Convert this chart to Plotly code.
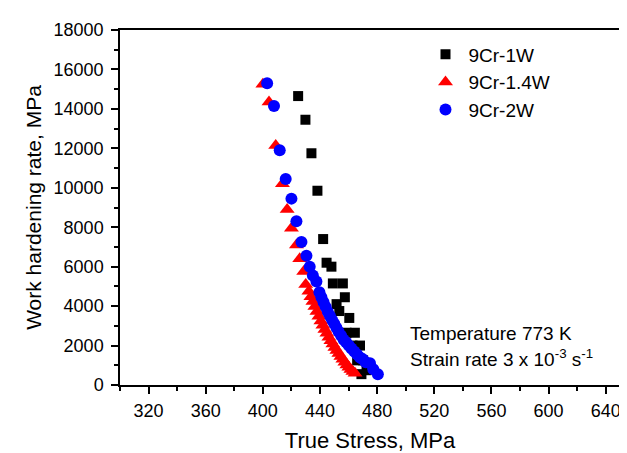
import plotly.graph_objects as go

# 9Cr-1W
stress_1w = [424.7, 429.8, 434.0, 438.2, 442.2, 444.6, 448.0, 449.0, 456.0, 457.4,
             451.6, 453.5, 460.5, 458.6, 464.4, 462.8, 468.0, 466.0, 470.2, 472.6, 469.0]
rate_1w = [14650, 13450, 11750, 9850, 7400, 6200, 6000, 5150, 5150, 4450,
           4100, 3750, 3400, 2650, 2650, 2000, 2000, 1250, 1250, 750, 550]

# 9Cr-1.4W
stress_14w = [400.0, 404.3, 409.0, 413.7, 417.0, 420.0, 423.5, 425.8, 428.6, 430.0,
              432.2, 433.6, 435.0, 436.4, 437.8, 439.2, 440.6, 442.0, 443.4, 444.8,
              446.2, 447.6, 449.0, 450.4, 451.8, 453.2, 454.6, 456.0, 457.4, 458.8,
              460.2, 461.6, 463.0, 464.5]
rate_14w = [15250, 14350, 12150, 10200, 8900, 7950, 7100, 6400, 5750, 5100,
            4750, 4480, 4230, 3980, 3730, 3480, 3250, 3030, 2820, 2620,
            2420, 2250, 2080, 1900, 1750, 1600, 1450, 1300, 1150, 1020,
            900, 790, 680, 600]

# 9Cr-2W
stress_2w = [403.0, 407.8, 411.8, 416.0, 420.0, 423.5, 427.0, 430.5, 432.8, 435.0,
             437.5, 439.6, 441.0, 442.5, 444.0, 445.5, 447.0, 448.5, 450.0, 451.5,
             453.0, 454.8, 456.6, 458.4, 460.2, 462.0, 464.0, 466.0, 468.0, 470.0,
             472.0, 475.0, 477.3, 480.5]
rate_2w = [15300, 14150, 11900, 10450, 9450, 8300, 7250, 6550, 6000, 5550,
           5250, 4700, 4450, 4200, 3950, 3700, 3500, 3300, 3100, 2900,
           2700, 2500, 2300, 2150, 2000, 1850, 1700, 1550, 1400, 1300,
           1150, 1100, 800, 550]

font = "Liberation Sans, Arial, sans-serif"

fig = go.Figure()
fig.add_trace(go.Scatter(x=stress_1w, y=rate_1w, mode="markers", name="9Cr-1W",
                         marker=dict(symbol="square", size=10, color="black")))
fig.add_trace(go.Scatter(x=stress_14w, y=rate_14w, mode="markers", name="9Cr-1.4W",
                         marker=dict(symbol="triangle-up", size=13, color="red")))
fig.add_trace(go.Scatter(x=stress_2w, y=rate_2w, mode="markers", name="9Cr-2W",
                         marker=dict(symbol="circle", size=12, color="blue")))

axis_common = dict(showline=True, linecolor="black", linewidth=1.5, mirror=True,
                   ticks="outside", ticklen=7, tickwidth=1.5, tickcolor="black",
                   showgrid=False, zeroline=False,
                   tickfont=dict(family=font, size=18, color="black"))

fig.update_xaxes(range=[300, 650], tick0=320, dtick=40, ticklabelstandoff=2,
                 minor=dict(ticks="outside", ticklen=4, dtick=20, tick0=300, tickcolor="black", tickwidth=1.5),
                 title=dict(text="True Stress, MPa", font=dict(family=font, size=22, color="black"), standoff=12),
                 **axis_common)
fig.update_yaxes(range=[0, 18000], dtick=2000, tickformat="d", ticklabelstandoff=4,
                 minor=dict(ticks="outside", ticklen=4, dtick=1000, tickcolor="black", tickwidth=1.5),
                 title=dict(text="Work hardening rate, MPa", font=dict(family=font, size=21, color="black"), standoff=6),
                 **axis_common)

fig.add_annotation(xref="paper", yref="paper", x=0.575, y=0.145, xanchor="left", yanchor="middle",
                   text="Temperature 773 K", showarrow=False,
                   font=dict(family=font, size=19, color="black"))
fig.add_annotation(xref="paper", yref="paper", x=0.575, y=0.075, xanchor="left", yanchor="middle",
                   text="Strain rate 3 x 10<sup>-3</sup> s<sup>-1</sup>", showarrow=False,
                   font=dict(family=font, size=19, color="black"))

fig.update_layout(
    width=627, height=453,
    margin=dict(l=112, r=15, t=19, b=65),
    paper_bgcolor="white", plot_bgcolor="white",
    legend=dict(x=0.605, y=0.985, xanchor="left", yanchor="top",
                bgcolor="rgba(0,0,0,0)", font=dict(family=font, size=19, color="black"),
                tracegroupgap=0, itemsizing="trace", itemwidth=36),
)

fig.write_html("out.html")
